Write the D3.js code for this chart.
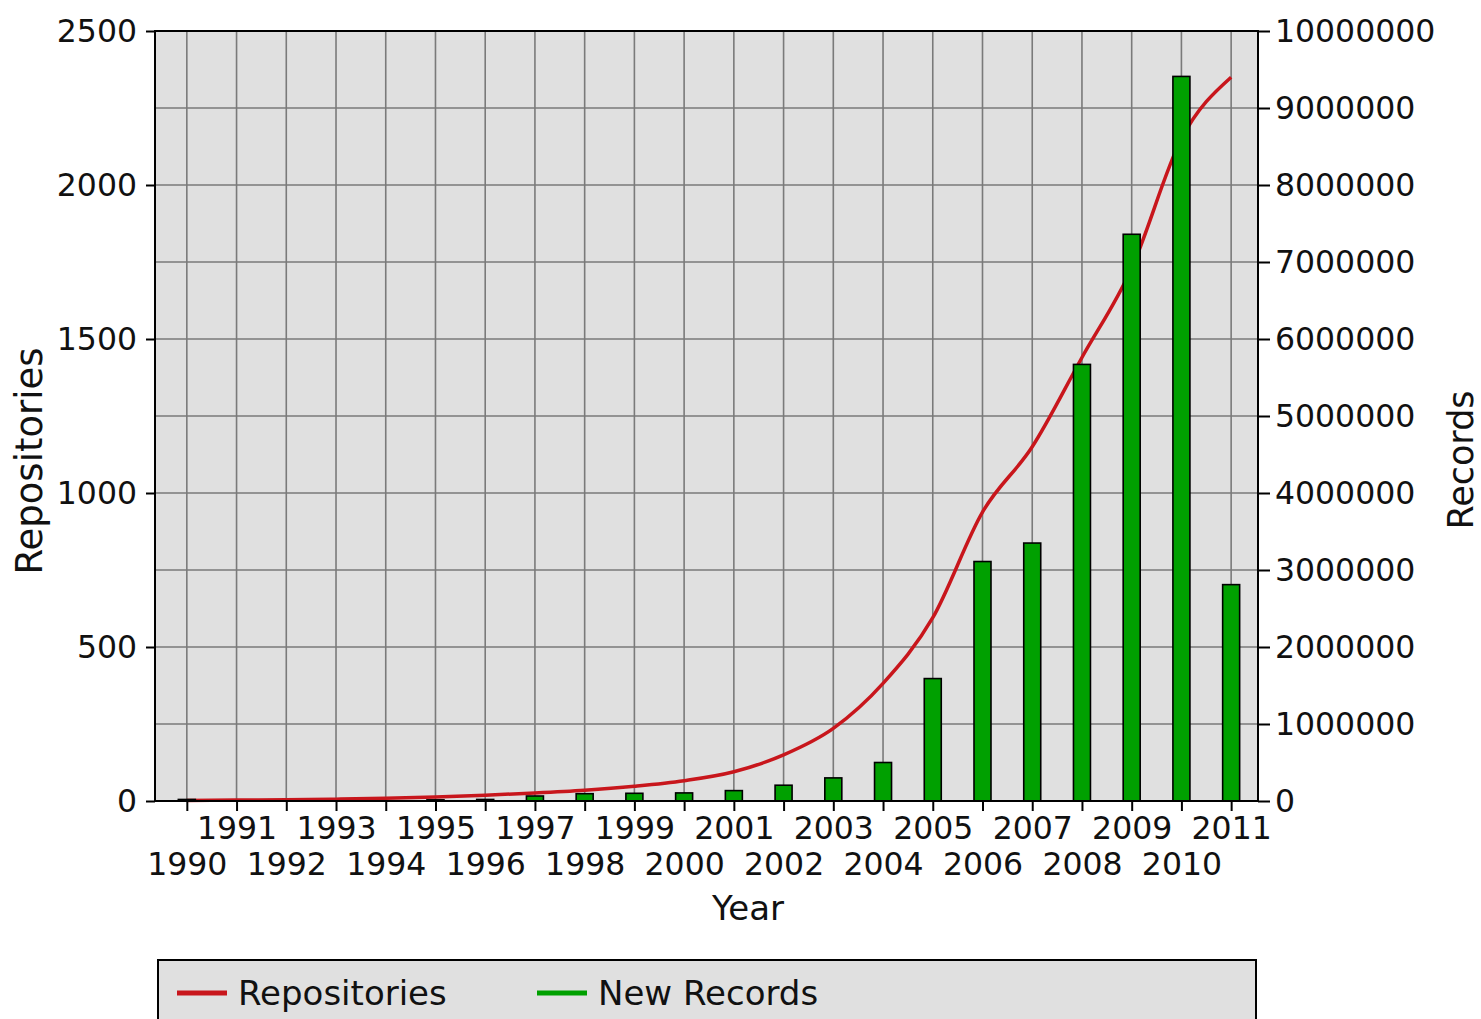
<!DOCTYPE html>
<html>
<head>
<meta charset="utf-8">
<script src="https://cdn.jsdelivr.net/npm/d3@7"></script>
<style>
  html, body { margin: 0; padding: 0; background: #ffffff; }
  svg { display: block; }
  text { font-family: "DejaVu Sans", sans-serif; fill: #111; }
</style>
</head>
<body>
<svg id="chart" width="1481" height="1019"></svg>
<script>
// ---- data ----
const years = [1990,1991,1992,1993,1994,1995,1996,1997,1998,1999,2000,2001,2002,2003,2004,2005,2006,2007,2008,2009,2010,2011];
const repositories = [2,3,4,6,9,13,19,26,35,48,66,95,150,236,382,595,938,1150,1440,1730,2150,2350];
const newRecords = [20000,0,0,0,0,15000,20000,65000,95000,100000,105000,135000,205000,300000,500000,1590000,3110000,3350000,5670000,7360000,9410000,2810000];
const leftTicks = [0,500,1000,1500,2000,2500];
const leftGrid = [250,500,750,1000,1250,1500,1750,2000,2250];
const rightTicks = [0,1000000,2000000,3000000,4000000,5000000,6000000,7000000,8000000,9000000,10000000];
const legendLabels = ["Repositories","New Records"];
const xTitle = "Year", yLeftTitle = "Repositories", yRightTitle = "Records";

// ---- layout ----
const L = 155, R = 1258, T = 31, B = 801;
const svg = d3.select("#chart");

const x = d3.scaleLinear().domain([1989.36, 2011.54]).range([L, R]);
const yL = d3.scaleLinear().domain([0, 2500]).range([B, T]);
const yR = d3.scaleLinear().domain([0, 10000000]).range([B, T]);

// plot background
svg.append("rect").attr("x", L).attr("y", T).attr("width", R - L).attr("height", B - T)
  .attr("fill", "#e0e0e0");

// grid
const grid = svg.append("g").attr("stroke", "#7a7a7a").attr("stroke-width", 1.6);
grid.selectAll("line.v").data(years).enter().append("line")
  .attr("x1", d => x(d)).attr("x2", d => x(d)).attr("y1", T).attr("y2", B);
grid.selectAll("line.h").data(leftGrid).enter().append("line")
  .attr("x1", L).attr("x2", R).attr("y1", d => yL(d)).attr("y2", d => yL(d));

// line (repositories)
const lineGen = d3.line().x((d, i) => x(years[i])).y(d => yL(d)).curve(d3.curveMonotoneX);
svg.append("path").datum(repositories).attr("d", lineGen)
  .attr("fill", "none").attr("stroke", "#c8161c").attr("stroke-width", 3.5);

// bars (new records)
const bw = 17;
svg.append("g").selectAll("rect").data(newRecords).enter().append("rect")
  .attr("x", (d, i) => x(years[i]) - bw / 2)
  .attr("width", bw)
  .attr("y", d => yR(d))
  .attr("height", d => B - yR(d))
  .attr("fill", "#00a000").attr("stroke", "#000").attr("stroke-width", 1.6);

// frame
svg.append("rect").attr("x", L).attr("y", T).attr("width", R - L).attr("height", B - T)
  .attr("fill", "none").attr("stroke", "#000").attr("stroke-width", 2);

// left axis
const axL = svg.append("g").attr("transform", `translate(${L},0)`)
  .call(d3.axisLeft(yL).tickValues(leftTicks).tickSize(9).tickPadding(9).tickFormat(d3.format("d")));
axL.select(".domain").remove();
axL.selectAll("line").attr("stroke", "#000").attr("stroke-width", 2);
axL.selectAll("text").attr("font-size", 31.5).attr("font-family", "DejaVu Sans").attr("fill", "#111");

// right axis
const axR = svg.append("g").attr("transform", `translate(${R},0)`)
  .call(d3.axisRight(yR).tickValues(rightTicks).tickSize(12).tickPadding(5).tickFormat(d3.format("d")));
axR.select(".domain").remove();
axR.selectAll("line").attr("stroke", "#000").attr("stroke-width", 2);
axR.selectAll("text").attr("font-size", 31.5).attr("font-family", "DejaVu Sans").attr("fill", "#111");

// bottom axis
const axB = svg.append("g").attr("transform", `translate(0,${B})`)
  .call(d3.axisBottom(x).tickValues(years).tickSize(10).tickFormat(d3.format("d")));
axB.select(".domain").remove();
axB.selectAll("line").attr("stroke", "#000").attr("stroke-width", 2);
axB.selectAll("text").attr("font-size", 31.5).attr("font-family", "DejaVu Sans").attr("fill", "#111")
  .attr("dy", null)
  .attr("y", d => (d % 2 === 1) ? 38 : 74);

// titles
svg.append("text").attr("x", 748).attr("y", 920).attr("text-anchor", "middle")
  .attr("font-size", 34).text(xTitle);
svg.append("text").attr("transform", "translate(42,461) rotate(-90)").attr("text-anchor", "middle")
  .attr("font-size", 37).text(yLeftTitle);
svg.append("text").attr("transform", "translate(1473,460) rotate(-90)").attr("text-anchor", "middle")
  .attr("font-size", 35).attr("dominant-baseline", "alphabetic").text(yRightTitle);

// legend
svg.append("rect").attr("x", 158).attr("y", 960).attr("width", 1098).attr("height", 80)
  .attr("fill", "#e0e0e0").attr("stroke", "#000").attr("stroke-width", 2);
const legColors = ["#c8161c", "#00a000"];
const legX = [177, 537];
legendLabels.forEach((lab, i) => {
  svg.append("line").attr("x1", legX[i]).attr("x2", legX[i] + 50).attr("y1", 993).attr("y2", 993)
    .attr("stroke", legColors[i]).attr("stroke-width", 5);
  svg.append("text").attr("x", legX[i] + 61).attr("y", 1005).attr("font-size", 34).text(lab);
});
</script>
</body>
</html>
